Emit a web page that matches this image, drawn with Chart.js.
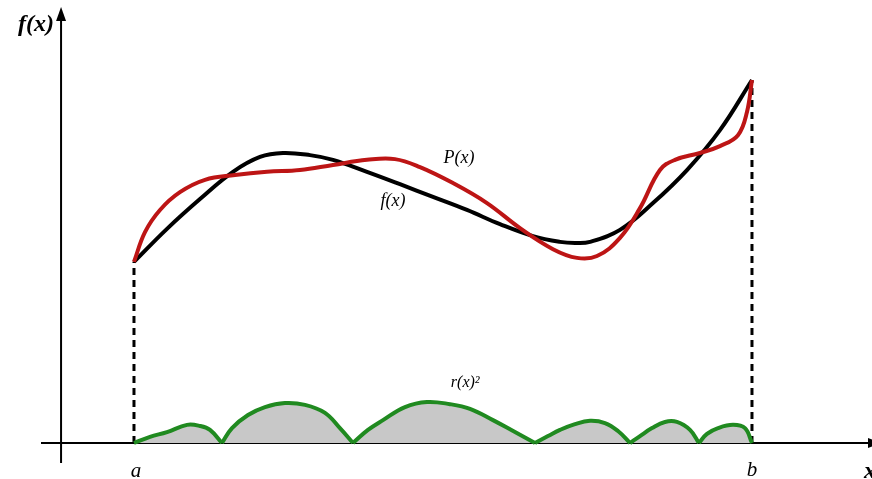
<!DOCTYPE html>
<html>
<head>
<meta charset="utf-8">
<script src="https://cdn.jsdelivr.net/npm/chart.js@4.4.1/dist/chart.umd.min.js"></script>
<style>
  html, body { margin: 0; padding: 0; background: #fff; }
  #wrap { width: 872px; height: 479px; }
</style>
</head>
<body>
<div id="wrap"><canvas id="plot" width="872" height="479"></canvas></div>
<script>
// f(x): the function on [a, b], a = 0, b = 10
const fX = [0, 0.534, 1.068, 1.602, 2.039, 2.411, 2.848, 3.22, 3.77, 4.304, 4.838, 5.388, 5.922, 6.456, 6.893, 7.136, 7.379, 7.864, 8.398, 8.948, 9.482, 10];
const fY = [4.99, 5.9, 6.72, 7.47, 7.88, 7.99, 7.93, 7.8, 7.47, 7.13, 6.78, 6.42, 6.03, 5.7, 5.54, 5.51, 5.54, 5.87, 6.61, 7.52, 8.62, 10];

// P(x): the approximating polynomial
const pX = [0, 0.178, 0.421, 0.744, 1.149, 1.634, 2.152, 2.686, 3.22, 3.77, 4.223, 4.628, 5.162, 5.712, 6.246, 6.78, 7.168, 7.492, 7.864, 8.188, 8.511, 8.754, 9.159, 9.482, 9.773, 9.919, 10];
const pY = [4.99, 5.81, 6.42, 6.91, 7.25, 7.38, 7.47, 7.52, 7.66, 7.8, 7.82, 7.6, 7.16, 6.61, 5.92, 5.34, 5.1, 5.15, 5.65, 6.47, 7.52, 7.8, 7.99, 8.18, 8.48, 9.12, 10];

// r(x)^2: squared residual, zero where f and P cross
const rX = [0, 0.259, 0.534, 0.858, 1.068, 1.23, 1.424,
  1.586, 1.845, 2.12, 2.443, 2.767, 3.091, 3.333, 3.544,
  3.786, 4.029, 4.385, 4.741, 5.113, 5.437, 5.809, 6.165, 6.489,
  6.699, 6.893, 7.136, 7.379, 7.621, 7.832, 8.026,
  8.188, 8.382, 8.592, 8.786, 8.997, 9.142,
  9.272, 9.45, 9.693, 9.887, 10];
const rY = [0, 0.17, 0.3, 0.5, 0.47, 0.36, 0,
  0.41, 0.77, 0.99, 1.1, 1.05, 0.83, 0.41, 0,
  0.36, 0.63, 0.99, 1.13, 1.07, 0.94, 0.63, 0.3, 0,
  0.19, 0.36, 0.52, 0.61, 0.55, 0.33, 0,
  0.19, 0.41, 0.58, 0.58, 0.36, 0,
  0.25, 0.41, 0.5, 0.41, 0];

const yAxisAt = -1.18;

const black = "#000000";
const red = "#bd1515";
const green = "#208a20";
const gray = "#c8c8c8";

function toPoints(xs, ys) {
  return xs.map((x, i) => ({ x: x, y: ys[i] }));
}

// split r(x)^2 into humps so each zero stays a sharp cusp
const humps = [];
let cur = [];
rX.forEach((x, i) => {
  cur.push({ x: x, y: rY[i] });
  if (rY[i] === 0 && cur.length > 1) {
    humps.push(cur);
    cur = [{ x: x, y: 0 }];
  }
});

const datasets = [
  {
    data: toPoints(pX, pY),
    borderColor: red,
    borderWidth: 4,
    order: 1,
  },
  {
    data: toPoints(fX, fY),
    borderColor: black,
    borderWidth: 4,
    order: 2,
  },
];

humps.forEach((h) => {
  datasets.push({
    data: h,
    borderColor: green,
    backgroundColor: gray,
    fill: "origin",
    borderWidth: 4,
    order: 3,
  });
});

// dashed drops at a and b
[0, fX.length - 1].forEach((i) => {
  datasets.push({
    data: [{ x: fX[i], y: 0 }, { x: fX[i], y: fY[i] }],
    borderColor: black,
    borderWidth: 3,
    borderDash: [7, 5],
    tension: 0,
    order: 4,
  });
});

const axesPlugin = {
  id: "axes",
  beforeDatasetsDraw(chart) {
    const ctx = chart.ctx;
    const y0 = chart.scales.y.getPixelForValue(0);
    const x0 = chart.scales.x.getPixelForValue(yAxisAt);
    ctx.save();
    ctx.strokeStyle = black;
    ctx.fillStyle = black;
    ctx.lineWidth = 2;
    ctx.beginPath();
    ctx.moveTo(41, y0);
    ctx.lineTo(868, y0);
    ctx.moveTo(x0, 463);
    ctx.lineTo(x0, 18);
    ctx.stroke();
    // arrow heads
    ctx.beginPath();
    ctx.moveTo(x0, 7);
    ctx.lineTo(x0 - 5, 21);
    ctx.lineTo(x0 + 5, 21);
    ctx.closePath();
    ctx.fill();
    ctx.beginPath();
    ctx.moveTo(882, y0);
    ctx.lineTo(868, y0 - 5);
    ctx.lineTo(868, y0 + 5);
    ctx.closePath();
    ctx.fill();
    ctx.restore();
  },
  afterDatasetsDraw(chart) {
    const ctx = chart.ctx;
    const xs = chart.scales.x;
    const ys = chart.scales.y;
    const x0 = xs.getPixelForValue(yAxisAt);
    ctx.save();
    ctx.fillStyle = black;
    ctx.textBaseline = "middle";
    ctx.textAlign = "right";
    ctx.font = "italic bold 24px 'Liberation Serif'";
    ctx.fillText("f(x)", x0 - 7, 25);
    ctx.textAlign = "left";
    ctx.fillText("x", 864, 472);

    ctx.textAlign = "center";
    ctx.font = "italic 21px 'Liberation Serif'";
    ctx.fillText("a", xs.getPixelForValue(fX[0]) + 2, 471);
    ctx.fillText("b", xs.getPixelForValue(fX[fX.length - 1]), 470);

    ctx.font = "italic 18px 'Liberation Serif'";
    ctx.fillText("P(x)", xs.getPixelForValue(5.26), ys.getPixelForValue(7.85));
    ctx.fillText("f(x)", xs.getPixelForValue(4.19), ys.getPixelForValue(6.67));
    ctx.font = "italic 16px 'Liberation Serif'";
    ctx.fillText("r(x)²", xs.getPixelForValue(5.36), ys.getPixelForValue(1.65));
    ctx.restore();
  },
};

new Chart(document.getElementById("plot"), {
  type: "line",
  data: { datasets: datasets },
  options: {
    responsive: false,
    animation: false,
    layout: { padding: 0 },
    elements: {
      point: { radius: 0 },
      line: { tension: 0.4, fill: false },
    },
    scales: {
      x: { type: "linear", min: -2.168, max: 11.942, display: false },
      y: { type: "linear", min: -0.992, max: 12.204, display: false },
    },
    plugins: {
      legend: { display: false },
      tooltip: { enabled: false },
    },
  },
  plugins: [axesPlugin],
});
</script>
</body>
</html>
